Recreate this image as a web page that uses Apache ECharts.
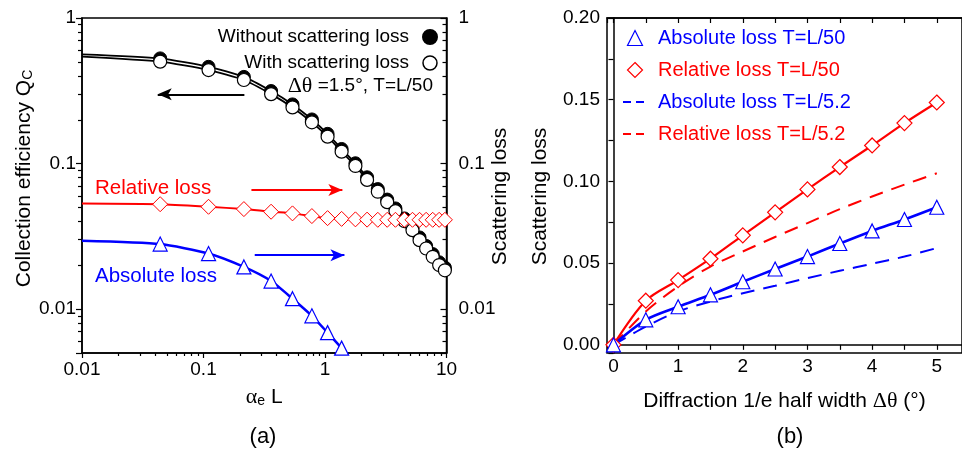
<!DOCTYPE html>
<html>
<head>
<meta charset="utf-8">
<script src="https://cdn.jsdelivr.net/npm/echarts@6/dist/echarts.min.js"></script>
<style>
  html, body { margin: 0; padding: 0; background: #fff; }
  #chart { width: 962px; height: 453px; }
</style>
</head>
<body>
<div id="chart"></div>
<script>
// ---- panel (a): collection efficiency vs alpha_e L ----
const alphaL = [0.044, 0.11, 0.215, 0.36, 0.54, 0.78, 1.05, 1.37, 1.78, 2.22, 2.72, 3.25, 3.8, 4.5, 5.25, 6.0, 6.8, 7.7, 8.7, 9.7];
const qcWithout = [0.528, 0.462, 0.394, 0.315, 0.255, 0.201, 0.160, 0.126, 0.1005, 0.0805, 0.0668, 0.0566, 0.0492, 0.0420, 0.0364, 0.0311, 0.0272, 0.0239, 0.0210, 0.0193];
const qcWith = [0.501, 0.439, 0.375, 0.300, 0.243, 0.192, 0.153, 0.1207, 0.0963, 0.0772, 0.0641, 0.0543, 0.0472, 0.0403, 0.0349, 0.0298, 0.0261, 0.0229, 0.0201, 0.0185];
const relLossA = [0.0526, 0.0505, 0.0487, 0.0467, 0.0455, 0.0436, 0.0422, 0.0417, 0.0414, 0.0412, 0.0411, 0.0411, 0.0411, 0.0411, 0.0411, 0.0411, 0.0411, 0.0411, 0.0411, 0.0411];
const absLossA = [0.028, 0.0241, 0.0195, 0.0156, 0.0118, 0.0090, 0.0069, 0.0054, 0.0042];
// curve ends (no marker) at alpha_e L = 0.01 and 10
const endX = [0.01, 10];
const qcWithoutEnds = [0.563, 0.0189];
const qcWithEnds = [0.542, 0.0181];
const relLossEnds = [0.0532, 0.0411];
const absLossStart = 0.0295;

// ---- panel (b): scattering loss vs diffraction half width ----
const theta = [0, 0.5, 1, 1.5, 2, 2.5, 3, 3.5, 4, 4.5, 5];
const absL50 = [0, 0.0153, 0.0233, 0.0306, 0.0386, 0.0464, 0.054, 0.062, 0.0697, 0.0767, 0.0842];
const relL50 = [0, 0.027, 0.0396, 0.0527, 0.067, 0.0811, 0.0951, 0.1088, 0.122, 0.1357, 0.1483];
const absL52 = [0, 0.0112, 0.0204, 0.0265, 0.0316, 0.0361, 0.0408, 0.0453, 0.0496, 0.054, 0.0592];
const relL52 = [0, 0.0204, 0.0357, 0.0479, 0.0571, 0.066, 0.0745, 0.083, 0.0908, 0.098, 0.105];

const FONT = 'Liberation Sans, Arial, sans-serif';
const SERIF = 'Liberation Serif, Times New Roman, serif';

let chart = echarts.init(document.getElementById('chart'));

function curve(xs, ys, start, end) {
  let d = [];
  if (start != null) d.push({ value: [endX[0], start], symbol: 'none' });
  ys.forEach((y, i) => d.push([xs[i], y]));
  if (end != null) d.push({ value: [endX[1], end], symbol: 'none' });
  return d;
}

const axisLine = { lineStyle: { color: '#000', width: 1.5 } };
const tickStyle = { color: '#000', width: 1.2 };
const labelStyle = { color: '#000', fontSize: 19, fontFamily: FONT };
const nameStyle = {
  color: '#000', fontSize: 21, fontFamily: FONT,
  rich: {
    s: { fontSize: 14, fontFamily: FONT, verticalAlign: 'bottom', lineHeight: 12 },
    g: { fontSize: 22, fontFamily: SERIF },
  },
};
// legend entry for a dashed curve: hide the default dot
const noDot = { color: 'rgba(0,0,0,0)', borderColor: 'rgba(0,0,0,0)', borderWidth: 0 };

let option = {
  animation: false,
  backgroundColor: '#fff',
  grid: [
    { left: 82, top: 18, width: 364.5, height: 335, show: true, borderColor: '#000', borderWidth: 1.5 },
    { left: 607, top: 18, width: 362, height: 335, show: true, borderColor: '#000', borderWidth: 1.5 },
  ],
  legend: [
    {
      orient: 'vertical', right: 524, top: 27, padding: 0, align: 'right',
      itemWidth: 32, itemHeight: 14, itemGap: 6, selectedMode: false,
      textStyle: { color: '#000', fontSize: 19, fontFamily: FONT, lineHeight: 20 },
      data: [
        { name: 'Without scattering loss', icon: 'circle', itemStyle: { color: '#000', borderColor: '#000' } },
        { name: 'With scattering loss', icon: 'circle', itemStyle: { color: '#fff', borderColor: '#000', borderWidth: 1.5 } },
      ],
    },
    {
      orient: 'vertical', left: 622, top: 27, padding: 0,
      itemWidth: 24, itemHeight: 15, itemGap: 10, selectedMode: false,
      textStyle: { fontSize: 20, fontFamily: FONT, lineHeight: 22, padding: [0, 0, 0, 6] },
      data: [
        { name: 'Absolute loss T=L/50', icon: 'path://M0,-1L1,1L-1,1Z', itemStyle: { color: '#fff', borderColor: '#0000ff', borderWidth: 1.2 }, textStyle: { color: '#0000ff' } },
        { name: 'Relative loss T=L/50', icon: 'path://M0,-1L1,0L0,1L-1,0Z', itemStyle: { color: '#fff', borderColor: '#ff0000', borderWidth: 1.2 }, textStyle: { color: '#ff0000' } },
        { name: 'Absolute loss T=L/5.2', lineStyle: { type: [8, 5] }, itemStyle: noDot, textStyle: { color: '#0000ff' } },
        { name: 'Relative loss T=L/5.2', lineStyle: { type: [8, 5] }, itemStyle: noDot, textStyle: { color: '#ff0000' } },
      ],
    },
  ],
  xAxis: [
    {
      gridIndex: 0, type: 'log', min: 0.01, max: 10, position: 'bottom',
      axisLine: axisLine,
      axisTick: { length: 5, lineStyle: tickStyle },
      minorTick: { show: true, splitNumber: 9, length: 3, lineStyle: tickStyle },
      splitLine: { show: false },
      axisLabel: Object.assign({ margin: 7 }, labelStyle),
      name: '{g|α}{s|e} L', nameLocation: 'middle', nameGap: 33, nameMoveOverlap: false, nameTextStyle: nameStyle,
    },
    {
      gridIndex: 1, type: 'value', min: -0.1, max: 5.39, position: 'bottom',
      axisLine: axisLine,
      axisTick: { length: 5, lineStyle: tickStyle },
      minorTick: { show: true, splitNumber: 2, length: 5, lineStyle: tickStyle },
      splitLine: { show: false },
      axisLabel: Object.assign({ margin: 4, showMinLabel: false, showMaxLabel: false }, labelStyle),
      name: 'Diffraction 1/e half width {g|Δθ} (°)', nameLocation: 'middle', nameGap: 37, nameMoveOverlap: false, nameTextStyle: nameStyle,
    },
    {
      gridIndex: 1, type: 'value', min: -0.1, max: 5.39, position: 'top',
      axisLine: axisLine,
      axisTick: { inside: true, length: 5, lineStyle: tickStyle },
      minorTick: { show: true, splitNumber: 2, length: 5, lineStyle: tickStyle },
      splitLine: { show: false },
      axisLabel: { show: false },
    },
  ],
  yAxis: [
    {
      gridIndex: 0, type: 'log', min: 0.005, max: 1, position: 'left',
      axisLine: axisLine,
      axisTick: { length: 6, lineStyle: tickStyle },
      minorTick: { show: true, splitNumber: 9, length: 4, lineStyle: tickStyle },
      splitLine: { show: false },
      axisLabel: Object.assign({ margin: 6, showMinLabel: false }, labelStyle),
      name: 'Collection efficiency Q{s|C}', nameLocation: 'middle', nameGap: 47, nameMoveOverlap: false,
      nameTextStyle: Object.assign({ padding: [0, 0, 0, 14] }, nameStyle),
    },
    {
      gridIndex: 0, type: 'log', min: 0.005, max: 1, position: 'right',
      axisLine: axisLine,
      axisTick: { inside: true, length: 6, lineStyle: tickStyle },
      minorTick: { show: true, splitNumber: 9, length: 4, lineStyle: tickStyle },
      splitLine: { show: false },
      axisLabel: Object.assign({ margin: 12, showMinLabel: false }, labelStyle),
      name: 'Scattering loss', nameLocation: 'middle', nameGap: 43, nameMoveOverlap: false,
      nameTextStyle: Object.assign({ padding: [0, 22, 0, 0] }, nameStyle),
    },
    {
      gridIndex: 1, type: 'value', min: -0.005, max: 0.2, position: 'left',
      axisLine: axisLine,
      axisTick: { length: 5, lineStyle: tickStyle },
      minorTick: { show: true, splitNumber: 2, length: 5, lineStyle: tickStyle },
      splitLine: { show: false },
      axisLabel: Object.assign({ margin: 7, showMinLabel: false, formatter: (v) => v.toFixed(2) }, labelStyle),
      name: 'Scattering loss', nameLocation: 'middle', nameGap: 56, nameMoveOverlap: false,
      nameTextStyle: Object.assign({ padding: [0, 22, 0, 0] }, nameStyle),
    },
  ],
  graphic: [
    {
      type: 'text', x: 433, y: 86,
      style: {
        text: '{g|Δθ} =1.5°, T=L/50', align: 'right', verticalAlign: 'middle',
        fill: '#000', fontSize: 19, fontFamily: FONT,
        rich: { g: { fontSize: 22, fontFamily: SERIF } },
      },
    },
    { type: 'text', x: 95, y: 188, style: { text: 'Relative loss', fill: '#ff0000', fontSize: 20.5, fontFamily: FONT, verticalAlign: 'middle' } },
    { type: 'text', x: 95, y: 276, style: { text: 'Absolute loss', fill: '#0000ff', fontSize: 20.5, fontFamily: FONT, verticalAlign: 'middle' } },
    { type: 'text', x: 263, y: 437, style: { text: '(a)', fill: '#000', fontSize: 22, fontFamily: FONT, align: 'center', verticalAlign: 'middle' } },
    { type: 'text', x: 790, y: 437, style: { text: '(b)', fill: '#000', fontSize: 22, fontFamily: FONT, align: 'center', verticalAlign: 'middle' } },
  ],
  series: [
    // panel (a)
    {
      name: 'Without scattering loss', type: 'line', xAxisIndex: 0, yAxisIndex: 0,
      data: curve(alphaL, qcWithout, qcWithoutEnds[0], qcWithoutEnds[1]),
      smooth: 0.2, symbol: 'circle', symbolSize: 13,
      lineStyle: { color: '#000', width: 1.8 },
      itemStyle: { color: '#000', borderColor: '#000', borderWidth: 1 },
      markLine: {
        silent: true, symbol: ['none', 'arrow'], symbolSize: [9, 14], label: { show: false },
        lineStyle: { color: '#000', width: 2, type: 'solid' },
        data: [[{ coord: [0.217, 0.299] }, { coord: [0.042, 0.299] }]],
      },
    },
    {
      name: 'With scattering loss', type: 'line', xAxisIndex: 0, yAxisIndex: 0,
      data: curve(alphaL, qcWith, qcWithEnds[0], qcWithEnds[1]),
      smooth: 0.2, symbol: 'circle', symbolSize: 13,
      lineStyle: { color: '#000', width: 1.8 },
      itemStyle: { color: '#fff', borderColor: '#000', borderWidth: 1.2 },
    },
    {
      name: 'Relative loss', type: 'line', xAxisIndex: 0, yAxisIndex: 1,
      data: curve(alphaL, relLossA, relLossEnds[0], relLossEnds[1]),
      smooth: 0.2, symbol: 'diamond', symbolSize: 15,
      lineStyle: { color: '#ff0000', width: 2 },
      itemStyle: { color: '#fff', borderColor: '#ff0000', borderWidth: 1 },
      markLine: {
        silent: true, symbol: ['none', 'arrow'], symbolSize: [9, 14], label: { show: false },
        lineStyle: { color: '#ff0000', width: 2, type: 'solid' },
        data: [[{ coord: [0.248, 0.0658] }, { coord: [1.39, 0.0658] }]],
      },
    },
    {
      name: 'Absolute loss', type: 'line', xAxisIndex: 0, yAxisIndex: 1,
      data: curve(alphaL, absLossA, absLossStart, null),
      smooth: 0.2, symbol: 'triangle', symbolSize: 14,
      lineStyle: { color: '#0000ff', width: 2.5 },
      itemStyle: { color: '#fff', borderColor: '#0000ff', borderWidth: 1.2 },
      markLine: {
        silent: true, symbol: ['none', 'arrow'], symbolSize: [9, 14], label: { show: false },
        lineStyle: { color: '#0000ff', width: 2, type: 'solid' },
        data: [[{ coord: [0.264, 0.0235] }, { coord: [1.445, 0.0235] }]],
      },
    },
    // panel (b)
    {
      name: 'Relative loss T=L/5.2', type: 'line', xAxisIndex: 1, yAxisIndex: 2,
      data: theta.map((t, i) => [t, relL52[i]]),
      smooth: 0.3, symbol: 'none',
      lineStyle: { color: '#ff0000', width: 2, type: [14, 9] },
      itemStyle: { color: '#ff0000' },
    },
    {
      name: 'Absolute loss T=L/5.2', type: 'line', xAxisIndex: 1, yAxisIndex: 2,
      data: theta.map((t, i) => [t, absL52[i]]),
      smooth: 0.3, symbol: 'none',
      lineStyle: { color: '#0000ff', width: 2, type: [14, 9] },
      itemStyle: { color: '#0000ff' },
    },
    {
      name: 'Relative loss T=L/50', type: 'line', xAxisIndex: 1, yAxisIndex: 2,
      data: theta.map((t, i) => [t, relL50[i]]),
      smooth: 0.3, symbol: 'diamond', symbolSize: 15,
      lineStyle: { color: '#ff0000', width: 2.2 },
      itemStyle: { color: '#fff', borderColor: '#ff0000', borderWidth: 1.2 },
    },
    {
      name: 'Absolute loss T=L/50', type: 'line', xAxisIndex: 1, yAxisIndex: 2,
      data: theta.map((t, i) => [t, absL50[i]]),
      smooth: 0.3, symbol: 'triangle', symbolSize: 14,
      lineStyle: { color: '#0000ff', width: 2.6 },
      itemStyle: { color: '#fff', borderColor: '#0000ff', borderWidth: 1.2 },
    },
  ],
};

chart.setOption(option);
</script>
</body>
</html>
